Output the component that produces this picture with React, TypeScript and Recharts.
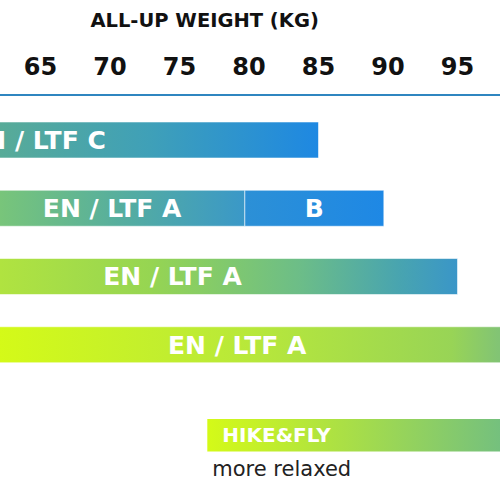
import React from 'react';
import { BarChart, Bar, XAxis, YAxis, Cell, LabelList, Label } from 'recharts';

const FONT = '"DejaVu Sans", sans-serif';

// ---- data ----
const weightTicks = [65, 70, 75, 80, 85, 90, 95];
const axisTitle = 'ALL-UP WEIGHT (KG)';
const weightDomain = [40, 100];

const rowIds = ['c', 'b', 'a1', 'a2'];
const grades = ['EN / LTF C', 'EN / LTF A', 'EN / LTF A', 'EN / LTF A'];
const extraGrades = ['', 'B', '', ''];
const rangeStarts = [44.5, 60.6, 54, 58.3];
const gradeEnds = [85, 79.7, 95, 100];
const rangeEnds = [85, 89.7, 95, 100];

const hikeLabel = 'HIKE&FLY';
const hikeNote = 'more relaxed';
const hikeStart = 77;
const hikeEnd = 100;

// ---- layout / styles ----
const PX_PER_KG = 13.9;
const CHART_W = Math.round((weightDomain[1] - weightDomain[0]) * PX_PER_KG);
const CHART_LEFT = 40.07 - (65 - weightDomain[0]) * (CHART_W / (weightDomain[1] - weightDomain[0]));

const rowGradients: [number, string][][] = [
  [[0, '#5aac96'], [0.435, '#58ab98'], [0.7, '#3fa0b8'], [1, '#1e88e2']],
  [[0, '#7cc778'], [0.08, '#78c57a'], [0.53, '#56ae9e'], [1, '#3a98c8']],
  [[0, '#b8e836'], [0.198, '#b0e340'], [0.461, '#96d552'], [0.724, '#6cbd88'], [0.899, '#48a4b0'], [1, '#3a96c8']],
  [[0, '#d4fa18'], [0.09, '#d4fa18'], [0.52, '#b8e83a'], [0.87, '#98d456'], [0.95, '#82c474'], [1, '#7cc07a']],
];
const extraGradient: [number, string][] = [[0, '#2c90d6'], [1, '#1e88e5']];
const hikeGradient: [number, string][] = [[0, '#d4fa18'], [0.45, '#a8de48'], [0.92, '#74c07e'], [1, '#70bd80']];

const rows = rowIds.map((id, i) => ({
  id,
  base: rangeStarts[i],
  main: gradeEnds[i] - rangeStarts[i],
  extra: rangeEnds[i] - gradeEnds[i],
  grade: grades[i],
  extraGrade: extraGrades[i],
}));

const hikeRows = [{ id: 'hike', base: hikeStart, main: hikeEnd - hikeStart, grade: hikeLabel, note: hikeNote }];

const Grad = ({ id, stops }: { id: string; stops: [number, string][] }) => (
  <linearGradient id={id} x1="0" y1="0" x2="1" y2="0">
    {stops.map(([o, c], k) => (
      <stop key={k} offset={o} stopColor={c} />
    ))}
  </linearGradient>
);

const HikeLabel = (props: any) => {
  const vb = props.viewBox && props.viewBox.width !== undefined ? props.viewBox : props;
  const x = Number(vb.x);
  const y = Number(vb.y);
  const h = Number(vb.height);
  const d = hikeRows[props.index ?? 0] || hikeRows[0];
  return (
    <g>
      <text x={x + 15} y={y + h / 2} dy="0.36em" fill="#ffffff" fontSize={20} fontWeight={700} fontFamily={FONT}>
        {d.grade}
      </text>
      <text x={x + 5} y={y + h + 25} fill="#222222" fontSize={21} fontFamily={FONT}>
        {d.note}
      </text>
    </g>
  );
};

const edge = 'rgba(255,255,255,0.55)';

export default function App() {
  return (
    <div style={{ position: 'absolute', left: 0, top: 0, width: 500, height: 500, background: '#ffffff', overflow: 'hidden' }}>
      <div style={{ position: 'absolute', left: CHART_LEFT, top: 0, width: CHART_W }}>
        <BarChart width={CHART_W} height={379} data={rows} layout="vertical" margin={{ top: 0, right: 0, bottom: 0, left: 0 }}>
          <defs>
            {rowGradients.map((s, i) => (
              <Grad key={i} id={`rowGrad${i}`} stops={s} />
            ))}
            <Grad id="extraGrad" stops={extraGradient} />
          </defs>
          <XAxis
            type="number"
            orientation="top"
            domain={weightDomain}
            allowDataOverflow
            ticks={weightTicks}
            height={95}
            tickLine={false}
            tickSize={0}
            tickMargin={20}
            axisLine={{ stroke: '#2f86c0', strokeWidth: 2 }}
            tick={{ fill: '#111111', fontSize: 24, fontWeight: 700, fontFamily: FONT }}
          >
            <Label
              value={axisTitle}
              position="insideTopLeft"
              offset={0}
              dx={90 - CHART_LEFT}
              dy={13}
              fill="#111111"
              fontSize={19.5}
              fontWeight={700}
              fontFamily={FONT}
            />
          </XAxis>
          <YAxis type="category" dataKey="id" hide padding={{ top: 11, bottom: 0 }} />
          <Bar dataKey="base" stackId="s" fill="none" barSize={36} isAnimationActive={false} />
          <Bar dataKey="main" stackId="s" barSize={36} stroke={edge} strokeWidth={1} isAnimationActive={false}>
            {rows.map((r, i) => (
              <Cell key={r.id} fill={`url(#rowGrad${i})`} />
            ))}
            <LabelList dataKey="grade" position="center" fill="#ffffff" fontSize={25} fontWeight={700} fontFamily={FONT} />
          </Bar>
          <Bar dataKey="extra" stackId="s" barSize={36} fill="url(#extraGrad)" stroke={edge} strokeWidth={1} isAnimationActive={false}>
            <LabelList dataKey="extraGrade" position="center" fill="#ffffff" fontSize={25} fontWeight={700} fontFamily={FONT} />
          </Bar>
        </BarChart>
        <BarChart width={CHART_W} height={121} data={hikeRows} layout="vertical" margin={{ top: 38, right: 0, bottom: 47, left: 0 }}>
          <defs>
            <Grad id="hikeGrad" stops={hikeGradient} />
          </defs>
          <XAxis type="number" domain={weightDomain} allowDataOverflow hide />
          <YAxis type="category" dataKey="id" hide />
          <Bar dataKey="base" stackId="h" fill="none" barSize={36} isAnimationActive={false} />
          <Bar dataKey="main" stackId="h" barSize={36} fill="url(#hikeGrad)" isAnimationActive={false}>
            <LabelList dataKey="grade" content={HikeLabel} />
          </Bar>
        </BarChart>
      </div>
    </div>
  );
}
